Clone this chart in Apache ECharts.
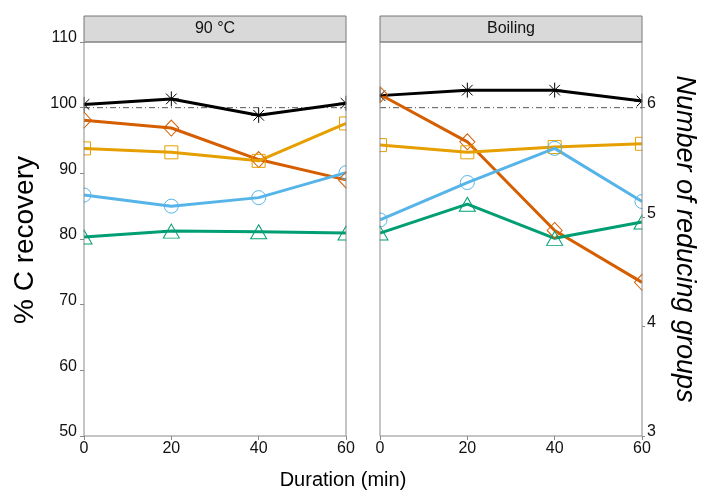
<!DOCTYPE html>
<html>
<head>
<meta charset="utf-8">
<title>C recovery</title>
<script src="https://cdn.jsdelivr.net/npm/echarts@6.0.0/dist/echarts.min.js"></script>
<style>
  html, body { margin: 0; padding: 0; background: #fff; }
  #chart { width: 705px; height: 491px; }
</style>
</head>
<body>
<div id="chart"></div>
<script>
// durations (min)
const durations = [0, 20, 40, 60]
const panelTitles = ['90 °C', 'Boiling']

// % C recovery, 90 °C panel
const redA = [98.1, 96.9, 92.1, 89.0]
const orangeA = [93.8, 93.2, 91.9, 97.6]
const blueA = [86.7, 85.0, 86.3, 90.1]
const greenA = [80.3, 81.2, 81.1, 80.9]
// number of reducing groups (right axis), 90 °C
const groupsA = [6.03, 6.08, 5.93, 6.04]

// % C recovery, Boiling panel
const redB = [102.0, 94.8, 81.3, 73.4]
const orangeB = [94.3, 93.2, 94.0, 94.5]
const blueB = [82.9, 88.6, 93.8, 85.7]
const greenB = [80.9, 85.3, 80.1, 82.6]
const groupsB = [6.11, 6.16, 6.16, 6.06]

// dash-dot reference level (100 % = 6 groups)
const refPct = [100, 100]
const refX = [0, 60]

const leftTicks = [50, 60, 70, 80, 90, 100, 110]
const rightTicks = [3, 4, 5, 6]

const FONT = 'Liberation Sans, Arial, Helvetica, sans-serif'
const AXIS_GREY = '#8a8a8a'

const asterisk = 'path://M10 0 L10 20 M0 10 L20 10 M2.93 2.93 L17.07 17.07 M17.07 2.93 L2.93 17.07'

function pairs(ys) {
  return durations.map((d, i) => [d, ys[i]])
}

function lineSeries(name, ys, color, symbol, size, xIdx, yIdx) {
  return {
    name: name,
    type: 'line',
    xAxisIndex: xIdx,
    yAxisIndex: yIdx,
    data: pairs(ys),
    symbol: symbol,
    symbolSize: size,
    showAllSymbol: true,
    clip: true,
    lineStyle: { color: color, width: 3 },
    itemStyle: { color: 'rgba(0,0,0,0)', borderColor: color, borderWidth: 1 },
    emphasis: { disabled: true },
    z: 3
  }
}

function refSeries(xIdx, yIdx) {
  return {
    type: 'line',
    xAxisIndex: xIdx,
    yAxisIndex: yIdx,
    data: refX.map((x, i) => [x, refPct[i]]),
    symbol: 'none',
    lineStyle: { color: '#555', width: 1, type: [6, 3, 1, 3] },
    emphasis: { disabled: true },
    z: 2
  }
}

function xAxis(gridIndex) {
  return {
    type: 'value', gridIndex: gridIndex,
    min: 0, max: 60, interval: 20,
    z: 10,
    axisLine: { show: false },
    axisTick: { show: true, length: 4, lineStyle: { color: AXIS_GREY } },
    axisLabel: { fontFamily: FONT, fontSize: 16, color: '#111', margin: 5 },
    splitLine: { show: false }
  }
}

// white masks so markers sitting on the panel edges get cut off like the original
function mask(x, w) {
  return { type: 'rect', z: 6, shape: { x: x, y: 43, width: w, height: 392 }, style: { fill: '#fff' } }
}

const grids = [
  { left: 84, top: 42, width: 262, height: 394 },
  { left: 380, top: 42, width: 262, height: 394 }
].map(g => Object.assign(g, { show: true, z: 10, borderColor: AXIS_GREY, borderWidth: 1, backgroundColor: 'transparent' }))

const chart = echarts.init(document.getElementById('chart'))

chart.setOption({
  animation: false,
  textStyle: { fontFamily: FONT },
  grid: grids,
  xAxis: [xAxis(0), xAxis(1)],
  yAxis: [
    {
      type: 'value', gridIndex: 0, position: 'left',
      min: 50, max: 110, interval: 10,
      z: 10,
      axisLine: { show: false },
      axisTick: { show: true, length: 4, lineStyle: { color: AXIS_GREY }, customValues: leftTicks },
      axisLabel: { fontFamily: FONT, fontSize: 16, color: '#111', margin: 7, verticalAlign: 'bottom', lineHeight: 8, customValues: leftTicks },
      splitLine: { show: false }
    },
    { type: 'value', gridIndex: 0, position: 'right', min: 3, max: 6.6, show: false },
    { type: 'value', gridIndex: 1, position: 'left', min: 50, max: 110, show: false },
    {
      type: 'value', gridIndex: 1, position: 'right',
      min: 3, max: 6.6, interval: 1,
      z: 10,
      axisLine: { show: false },
      axisTick: { show: true, length: 3, lineStyle: { color: AXIS_GREY }, customValues: rightTicks },
      axisLabel: { fontFamily: FONT, fontSize: 16, color: '#111', margin: 5, verticalAlign: 'bottom', lineHeight: 8, customValues: rightTicks },
      splitLine: { show: false }
    }
  ],
  graphic: [
    mask(66, 17.5),
    mask(346.5, 33),
    mask(642.5, 20),
    { type: 'rect', z: 7, shape: { x: 84, y: 16, width: 262, height: 26 }, style: { fill: '#d9d9d9', stroke: '#777', lineWidth: 1 } },
    { type: 'rect', z: 7, shape: { x: 380, y: 16, width: 262, height: 26 }, style: { fill: '#d9d9d9', stroke: '#777', lineWidth: 1 } },
    { type: 'text', z: 8, x: 215, y: 29, style: { text: panelTitles[0], font: '16px ' + FONT, fill: '#111', align: 'center', verticalAlign: 'middle' } },
    { type: 'text', z: 8, x: 511, y: 29, style: { text: panelTitles[1], font: '16px ' + FONT, fill: '#111', align: 'center', verticalAlign: 'middle' } },
    // axis titles
    { type: 'text', z: 8, x: 25, y: 240, rotation: Math.PI / 2, style: { text: '% C recovery', font: '28px ' + FONT, fill: '#000', align: 'center', verticalAlign: 'middle' } },
    { type: 'text', z: 8, x: 685, y: 239, rotation: -Math.PI / 2, style: { text: 'Number of reducing groups', font: 'italic 27px ' + FONT, fill: '#000', align: 'center', verticalAlign: 'middle' } },
    { type: 'text', z: 8, x: 343, y: 480, style: { text: 'Duration (min)', font: '20px ' + FONT, fill: '#000', align: 'center', verticalAlign: 'middle' } }
  ],
  series: [
    refSeries(0, 0),
    lineSeries('groups', groupsA, '#000000', asterisk, 15, 0, 1),
    lineSeries('red', redA, '#D55E00', 'diamond', [15, 16], 0, 0),
    lineSeries('orange', orangeA, '#E69F00', 'rect', 13, 0, 0),
    lineSeries('blue', blueA, '#56B4E9', 'circle', 14, 0, 0),
    lineSeries('green', greenA, '#009E73', 'triangle', [16, 14], 0, 0),

    refSeries(1, 2),
    lineSeries('groups', groupsB, '#000000', asterisk, 15, 1, 3),
    lineSeries('red', redB, '#D55E00', 'diamond', [15, 16], 1, 2),
    lineSeries('orange', orangeB, '#E69F00', 'rect', 13, 1, 2),
    lineSeries('blue', blueB, '#56B4E9', 'circle', 14, 1, 2),
    lineSeries('green', greenB, '#009E73', 'triangle', [16, 14], 1, 2)
  ]
})
</script>
</body>
</html>
